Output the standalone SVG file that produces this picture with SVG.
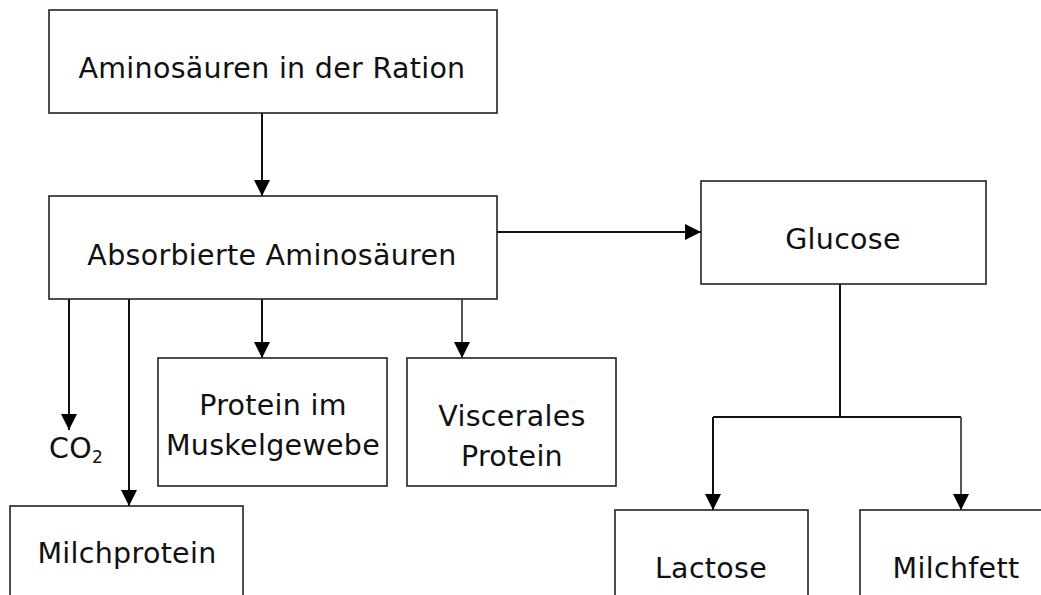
<svg xmlns="http://www.w3.org/2000/svg" width="1041" height="595" viewBox="0 0 1041 595">
<style>
.box{fill:#fff;stroke:#222;stroke-width:1.6}
.lbl{font-family:"DejaVu Sans",Verdana,sans-serif;font-size:28.5px;letter-spacing:0.3px;fill:#111;text-anchor:middle}
.con{fill:none;stroke:#111;stroke-width:2}
.gray{stroke:#555}
</style>
<defs>
<marker id="ah" viewBox="0 0 16 16" refX="16" refY="8" markerWidth="16" markerHeight="16" markerUnits="userSpaceOnUse" orient="auto">
<path d="M0,0 L16,8 L0,16 z" fill="#000"/>
</marker>
</defs>
<rect width="1041" height="595" fill="#fff"/>
<g id="connectors">
<path class="con" d="M262,113 V196" marker-end="url(#ah)"/>
<path class="con" d="M497,232 H701" marker-end="url(#ah)"/>
<path class="con" d="M69,299 V430" marker-end="url(#ah)"/>
<path class="con" d="M129,295 V506" marker-end="url(#ah)"/>
<path class="con" d="M262,299 V358" marker-end="url(#ah)"/>
<path class="con gray" d="M462,299 V358" marker-end="url(#ah)"/>
<path class="con" d="M840,284 V417 M713,417 H961"/>
<path class="con" d="M713,417 V510" marker-end="url(#ah)"/>
<path class="con gray" d="M961,417 V510" marker-end="url(#ah)"/>
</g>
<g id="ration">
<rect class="box" x="49" y="10" width="448" height="103"/>
<text class="lbl" x="272" y="78">Aminosäuren in der Ration</text>
</g>
<g id="absorbiert">
<rect class="box" x="49" y="196" width="448" height="103"/>
<text class="lbl" x="272" y="265">Absorbierte Aminosäuren</text>
</g>
<g id="glucose">
<rect class="box" x="701" y="181" width="285" height="103"/>
<text class="lbl" x="843" y="249">Glucose</text>
</g>
<g id="muskel">
<rect class="box" x="158" y="358" width="229" height="128"/>
<text class="lbl" x="273" y="415">Protein im</text>
<text class="lbl" x="273" y="455">Muskelgewebe</text>
</g>
<g id="visceral">
<rect class="box" x="407" y="358" width="209" height="128"/>
<text class="lbl" x="512" y="426">Viscerales</text>
<text class="lbl" x="512" y="466">Protein</text>
</g>
<g id="co2">
<text class="lbl" x="49" y="458" style="text-anchor:start">CO<tspan font-size="17" dy="5">2</tspan></text>
</g>
<g id="milchprotein">
<rect class="box" x="10" y="506" width="233" height="100"/>
<text class="lbl" x="127" y="563">Milchprotein</text>
</g>
<g id="lactose">
<rect class="box" x="615" y="510" width="193" height="100"/>
<text class="lbl" x="711" y="578">Lactose</text>
</g>
<g id="milchfett">
<rect class="box" x="860" y="510" width="190" height="100"/>
<text class="lbl" x="956" y="578">Milchfett</text>
</g>
</svg>
